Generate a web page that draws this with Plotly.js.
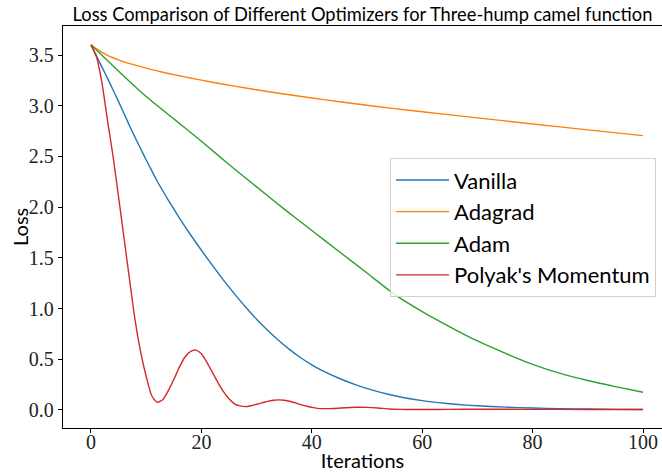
<!DOCTYPE html>
<html>
<head>
<meta charset="utf-8">
<script src="https://cdn.plot.ly/plotly-3.0.1.min.js"></script>
<style>
html,body{margin:0;padding:0;background:#fff;overflow:hidden;}
#chart{width:662px;height:472px;}
</style>
</head>
<body>
<div id="chart"></div>
<script>
// Data
const seriesNames = ["Vanilla", "Adagrad", "Adam", "Polyak's Momentum"];

const vanillaX = [0,1,2,3,4,5,6,7,8,9,10,11,12,14,16,18,20,22,24,26,28,30,32,34,36,38,40,42,45,48,51,54,57,60,63,66,70,75,80,85,90,95,100];
const vanillaY = [3.6,3.49,3.38,3.27,3.155,3.04,2.92,2.80,2.685,2.575,2.465,2.36,2.255,2.07,1.895,1.73,1.575,1.425,1.28,1.145,1.015,0.895,0.785,0.685,0.595,0.515,0.445,0.385,0.31,0.248,0.195,0.152,0.118,0.092,0.072,0.056,0.041,0.028,0.019,0.013,0.009,0.006,0.005];

const adagradX = [0,1,2,3,4,5,6,8,10,12,14,16,18,20,23,26,30,35,40,45,50,55,60,70,80,90,100];
const adagradY = [3.6,3.56,3.525,3.497,3.473,3.452,3.433,3.40,3.37,3.343,3.318,3.295,3.273,3.252,3.222,3.193,3.157,3.115,3.076,3.039,3.004,2.971,2.94,2.88,2.82,2.762,2.705];

const adamX = [0,5,10,15,20,25,30,35,40,45,50,55,60,65,70,75,80,85,90,95,100];
const adamY = [3.6,3.34,3.09,2.87,2.65,2.42,2.20,1.98,1.77,1.56,1.35,1.14,0.97,0.82,0.68,0.56,0.45,0.36,0.29,0.23,0.174];

const polyakX = [0,1,2,3,4,5,6,7,8,9,10,11,12,13,14,15,16,17,18,19,20,21,22,23,24,25,26,27,28,29,30,31,32,33,34,35,36,37,38,39,40,41,42,44,46,48,50,52,54,56,58,60,65,70,80,90,100];
const polyakY = [3.6,3.48,3.22,2.85,2.50,2.10,1.69,1.28,0.88,0.57,0.33,0.14,0.075,0.10,0.19,0.30,0.42,0.52,0.575,0.59,0.555,0.47,0.37,0.27,0.18,0.11,0.06,0.04,0.033,0.042,0.056,0.07,0.085,0.095,0.099,0.095,0.086,0.07,0.052,0.038,0.025,0.016,0.013,0.015,0.021,0.026,0.025,0.019,0.01,0.006,0.004,0.004,0.006,0.007,0.006,0.005,0.004];

const xTicks = [0,20,40,60,80,100];
const yTicks = [0.0,0.5,1.0,1.5,2.0,2.5,3.0,3.5];

const colors = ["#1f77b4", "#ff7f0e", "#2ca02c", "#d62728"];
const xs = [vanillaX, adagradX, adamX, polyakX];
const ys = [vanillaY, adagradY, adamY, polyakY];

const traces = seriesNames.map((n, i) => ({
  x: xs[i], y: ys[i], name: n, type: 'scatter', mode: 'lines',
  line: {color: colors[i], width: 1.4, shape: 'spline', smoothing: 0.6}
}));

const sans = "Lato, 'Open Sans', 'DejaVu Sans', sans-serif";
const serif = "'Liberation Serif', 'DejaVu Serif', serif";

const layout = {
  width: 662, height: 472,
  margin: {l: 63, r: 0, t: 26, b: 44, pad: 0},
  paper_bgcolor: '#fff', plot_bgcolor: '#fff',
  title: {text: 'Loss Comparison of Different Optimizers for Three-hump camel function',
          font: {family: sans, size: 18.3, color: '#000'}, x: 0.5, xref: 'paper', xanchor: 'center',
          y: 1, yref: 'paper', yanchor: 'bottom', pad: {b: 5}},
  xaxis: {range: [-5.07, 103.44], tickvals: xTicks, ticktext: xTicks.map(String),
          showgrid: false, zeroline: false, showline: true, linecolor: '#000', linewidth: 1.2, mirror: true,
          ticks: 'outside', ticklen: 4, tickcolor: '#000', tickwidth: 1, ticklabelstandoff: -8,
          tickfont: {family: serif, size: 20, color: '#222'},
          title: {text: 'Iterations', font: {family: sans, size: 20, color: '#000'}, standoff: 2}},
  yaxis: {range: [-0.178, 3.786], tickvals: yTicks, ticktext: yTicks.map(v => v.toFixed(1)),
          showgrid: false, zeroline: false, showline: true, linecolor: '#000', linewidth: 1.2,
          ticks: 'outside', ticklen: 4, tickcolor: '#000', tickwidth: 1,
          tickfont: {family: serif, size: 20, color: '#222'}},
  annotations: [{text: 'Loss', textangle: -90, xref: 'paper', yref: 'paper',
                 x: -0.0718, y: 0.5, xanchor: 'center', yanchor: 'middle', showarrow: false,
                 font: {family: sans, size: 20, color: '#000'}}],
  legend: {x: 0.546, y: 0.671, xanchor: 'left', yanchor: 'top', itemwidth: 53,
           bgcolor: 'rgba(255,255,255,0.8)', bordercolor: '#d0d0d0', borderwidth: 1,
           font: {family: sans, size: 22, color: '#000'}, tracegroupgap: 0},
  showlegend: true
};

Plotly.newPlot('chart', traces, layout, {staticPlot: true, displayModeBar: false});
</script>
</body>
</html>
